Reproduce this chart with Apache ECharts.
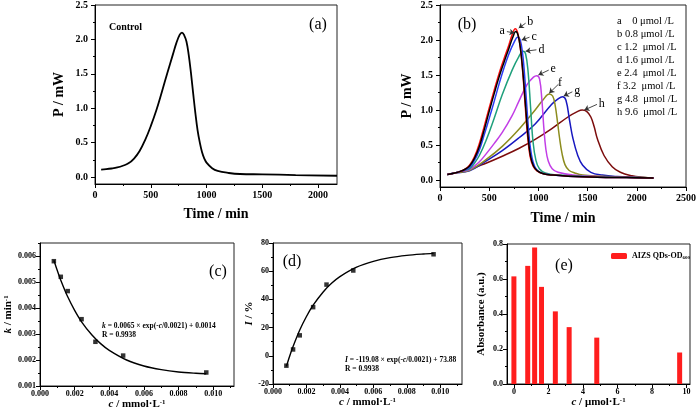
<!DOCTYPE html>
<html><head><meta charset="utf-8">
<script src="https://cdn.jsdelivr.net/npm/echarts@6/dist/echarts.min.js"></script>
<style>html,body{margin:0;padding:0;background:#fff}#c{width:699px;height:413px}</style>
</head><body><div id="c"></div>
<script>
// ---------------- DATA ----------------
// (a) control
const controlTime  = [55,100,150,200,250,300,350,400,450,500,550,600,650,700,730,760,780,800,820,840,860,880,900,920,940,960,980,1000,1050,1100,1200,1300,1500,1800,2170];
const controlPower = [0.11,0.115,0.125,0.14,0.165,0.2,0.27,0.38,0.54,0.74,0.97,1.24,1.52,1.79,1.95,2.07,2.10,2.06,1.97,1.78,1.52,1.22,0.93,0.68,0.50,0.36,0.27,0.21,0.13,0.09,0.06,0.045,0.04,0.03,0.02];
// (b) curves a..h
const timeA  = [75,150,200,250,300,350,400,450,500,550,600,650,700,740,770,795,820,845,870,895,920,950,990,1050,1150,1300,1600,1900,2170];
const powerA = [0.08,0.1,0.12,0.15,0.2,0.31,0.48,0.72,0.98,1.23,1.47,1.68,1.88,2.04,2.12,2.06,1.85,1.5,1.05,0.62,0.34,0.2,0.13,0.09,0.07,0.055,0.04,0.035,0.03];
const timeB  = [75,150,200,250,300,350,400,450,500,550,600,650,700,735,765,790,815,840,865,890,915,945,985,1050,1150,1300,1600,1900,2170];
const powerB = [0.08,0.1,0.12,0.15,0.21,0.33,0.52,0.77,1.03,1.28,1.52,1.73,1.93,2.08,2.16,2.1,1.9,1.55,1.08,0.63,0.34,0.2,0.13,0.09,0.07,0.055,0.04,0.035,0.03];
const timeC  = [75,150,200,250,300,350,400,450,500,550,600,650,700,750,790,815,840,865,890,915,945,980,1030,1100,1300,1600,1900,2170];
const powerC = [0.08,0.1,0.12,0.14,0.18,0.28,0.43,0.65,0.88,1.12,1.37,1.6,1.8,1.96,2.04,2.0,1.8,1.4,0.9,0.5,0.26,0.15,0.1,0.08,0.055,0.04,0.035,0.03];
const timeD  = [75,150,200,250,300,350,400,467,550,633,733,800,845,870,895,920,945,975,1010,1070,1200,1500,1800,2170];
const powerD = [0.08,0.1,0.12,0.14,0.16,0.24,0.35,0.56,0.88,1.22,1.57,1.76,1.84,1.8,1.55,1.05,0.55,0.28,0.16,0.1,0.07,0.05,0.04,0.03];
const timeE  = [75,150,200,300,400,467,550,633,733,800,883,950,985,1012,1035,1055,1075,1100,1140,1200,1350,1600,1900,2170];
const powerE = [0.08,0.1,0.12,0.15,0.26,0.37,0.52,0.68,0.92,1.12,1.36,1.47,1.49,1.44,1.15,0.75,0.45,0.27,0.16,0.11,0.07,0.05,0.04,0.03];
const timeF  = [75,150,300,467,633,800,967,1050,1110,1145,1170,1195,1215,1240,1270,1310,1370,1450,1700,2000,2170];
const powerF = [0.08,0.1,0.14,0.29,0.48,0.72,1.0,1.15,1.23,1.2,1.07,0.82,0.6,0.38,0.22,0.14,0.1,0.07,0.05,0.04,0.03];
const timeG  = [75,150,300,467,633,800,967,1133,1200,1245,1280,1317,1350,1400,1450,1533,1650,1800,2000,2170];
const powerG = [0.08,0.1,0.13,0.27,0.42,0.6,0.8,1.08,1.16,1.19,1.14,0.85,0.6,0.35,0.21,0.11,0.07,0.05,0.04,0.03];
const timeH  = [75,150,300,467,633,800,967,1133,1300,1400,1445,1490,1533,1567,1600,1667,1750,1833,1950,2050,2170];
const powerH = [0.08,0.1,0.15,0.24,0.34,0.45,0.58,0.73,0.9,0.98,1.0,0.98,0.9,0.76,0.585,0.35,0.19,0.11,0.06,0.04,0.03];
const curveLetters = ['a','b','c','d','e','f','g','h'];
const curveConcLabels = ['a    0 μmol /L','b 0.8 μmol /L','c 1.2  μmol /L','d 1.6 μmol /L','e 2.4  μmol /L','f 3.2  μmol /L','g 4.8  μmol /L','h 9.6  μmol /L'];
// (c) rate constant
const concMmol = [0.0008,0.0012,0.0016,0.0024,0.0032,0.0048,0.0096];
const kValues  = [0.0058,0.0052,0.00465,0.00357,0.0027,0.00217,0.00152];
const fitConc  = [0.0008,0.001,0.0012,0.0016,0.002,0.0024,0.003,0.0035,0.004,0.005,0.006,0.007,0.008,0.009,0.0096];
const kFit     = [0.00584,0.00544,0.00507,0.00443,0.00391,0.00347,0.00296,0.00263,0.00237,0.00200,0.00177,0.00163,0.00154,0.00149,0.00147];
// (d) inhibition ratio
const IValues  = [-7,4.5,14.5,34.5,50.5,60.5,72];
const IFit     = [-7.5,-0.1,6.6,18.3,27.9,35.9,45.3,51.4,56.2,62.9,67.0,69.6,71.2,72.2,72.65];
// (e) absorbance
const absConc    = [0,0.8,1.2,1.6,2.4,3.2,4.8,9.6];
const absorbance = [0.615,0.675,0.78,0.555,0.415,0.325,0.265,0.18];
// tick labels
const ticksTime   = [0,500,1000,1500,2000];
const ticksTimeB  = [0,500,1000,1500,2000,2500];
const ticksPower  = [0,0.5,1.0,1.5,2.0,2.5];
const ticksConc   = [0,0.002,0.004,0.006,0.008,0.010];
const ticksK      = [0.001,0.002,0.003,0.004,0.005,0.006];
const ticksI      = [-20,0,20,40,60,80];
const ticksAbsX   = [0,2,4,6,8,10];
const ticksAbsY   = [0,0.2,0.4,0.6,0.8];

// ---------------- HELPERS ----------------
const SERIF = "'Liberation Serif','DejaVu Serif',serif";
function minorsOf(majors, lo, hi) {
  const step = majors[1] - majors[0];
  const out = [];
  for (let v = majors[0] - step / 2; v <= majors[majors.length - 1] + step / 2 + 1e-12; v += step) {
    const r = +v.toFixed(8);
    if (r >= lo - 1e-12 && r <= hi + 1e-12) out.push(r);
  }
  return out;
}
function axisPair(g, dim, o) {
  const pos = dim === 'x' ? 'bottom' : 'left';
  const main = {
    type: 'value', gridIndex: g, min: o.min, max: o.max, position: pos,
    splitLine: {show: false},
    axisLine: {show: true, onZero: false, lineStyle: {color: '#000', width: 1}},
    axisTick: {show: true, inside: false, length: o.tickLen || 4, customValues: o.majors, lineStyle: {color: '#000'}},
    axisLabel: {show: true, customValues: o.majors, formatter: o.fmt, margin: o.margin,
      fontFamily: SERIF, fontWeight: 'bold', fontSize: o.fs, color: '#000'},
    name: o.name, nameLocation: 'middle', nameGap: o.nameGap,
    nameTextStyle: {fontFamily: SERIF, fontWeight: 'bold', fontSize: o.nameFs, color: '#000', rich: o.rich || {}}
  };
  const minor = {
    type: 'value', gridIndex: g, min: o.min, max: o.max, position: pos,
    splitLine: {show: false},
    axisLine: {show: false, onZero: false},
    axisTick: {show: true, inside: false, length: 2, customValues: minorsOf(o.majors, o.min, o.max), lineStyle: {color: '#000'}},
    axisLabel: {show: false}
  };
  return [main, minor];
}
function richName(fs) {
  return {
    t: {fontFamily: SERIF, fontWeight: 'bold', fontSize: fs, color: '#000'},
    i: {fontFamily: SERIF, fontWeight: 'bold', fontStyle: 'italic', fontSize: fs, color: '#000'},
    s: {fontFamily: SERIF, fontWeight: 'bold', fontSize: fs * 0.62, color: '#000', verticalAlign: 'top'}
  };
}
function zip(a, b) { return a.map((v, i) => [v, b[i]]); }

const grids = [
  {left: 95, top: 5, width: 242, height: 179},
  {left: 440, top: 5, width: 250, height: 182},
  {left: 40, top: 243, width: 194, height: 143},
  {left: 273, top: 243, width: 189, height: 141},
  {left: 507, top: 244, width: 183, height: 140}
].map(g => Object.assign(g, {show: true, borderColor: '#222', borderWidth: 1, backgroundColor: 'transparent', containLabel: false}));

const f1 = v => v.toFixed(1), f0 = v => String(v), f3 = v => v.toFixed(3);
const xAxes = [], yAxes = [];
function addAxes(g, xo, yo) {
  const xs = axisPair(g, 'x', xo), ys = axisPair(g, 'y', yo);
  const xi = xAxes.length, yi = yAxes.length;
  xAxes.push(...xs); yAxes.push(...ys);
  return {x: xi, y: yi};
}
const axA = addAxes(0,
  {min: 0, max: 2170, majors: ticksTime, fmt: f0, fs: 10, margin: 6, name: 'Time / min', nameGap: 23, nameFs: 14},
  {min: -0.1, max: 2.5, majors: ticksPower, fmt: f1, fs: 10, margin: 7, name: 'P / mW', nameGap: 29, nameFs: 14});
const axB = addAxes(1,
  {min: 0, max: 2500, majors: ticksTimeB, fmt: f0, fs: 10, margin: 6, name: 'Time / min', nameGap: 24, nameFs: 14},
  {min: -0.1, max: 2.5, majors: ticksPower, fmt: f1, fs: 10, margin: 7, name: 'P / mW', nameGap: 26, nameFs: 14});
const axC = addAxes(2,
  {min: 0, max: 0.0112, majors: ticksConc, fmt: f3, fs: 8, margin: 4, name: '{i|c}{t| / mmol·L}{s|-1}', nameGap: 11, nameFs: 11, rich: richName(11)},
  {min: 0.001, max: 0.0065, majors: ticksK, fmt: f3, fs: 8, margin: 4, name: '{i|k}{t| / min}{s|-1}', nameGap: 21, nameFs: 11, rich: richName(11)});
const axD = addAxes(3,
  {min: 0, max: 0.0113, majors: ticksConc, fmt: f3, fs: 8, margin: 4, name: '{i|c}{t| / mmol·L}{s|-1}', nameGap: 11, nameFs: 11, rich: richName(11)},
  {min: -20, max: 80, majors: ticksI, fmt: f0, fs: 8, margin: 4, name: '{i|I}{t| / %}', nameGap: 16, nameFs: 11, rich: richName(11)});
const axE = addAxes(4,
  {min: -0.4, max: 10.2, majors: ticksAbsX, fmt: f0, fs: 8, margin: 4, name: '{i|c}{t| / μmol·L}{s|-1}', nameGap: 11, nameFs: 11, rich: richName(11)},
  {min: 0, max: 0.8, majors: ticksAbsY, fmt: f1, fs: 8, margin: 4, name: 'Absorbance (a.u.)', nameGap: 20, nameFs: 11});

// arrows (annotation) for panel (b): tail -> head in data units
const arrowTail = [[680,2.12],[870,2.24],[910,2.04],[980,1.86],[1105,1.57],[1205,1.37],[1345,1.26],[1595,1.08]];
const arrowHead = [[757,2.1],[800,2.17],[830,2.0],[870,1.84],[1000,1.5],[1110,1.24],[1257,1.2],[1467,1.0]];

const curveTimes  = [timeA,timeB,timeC,timeD,timeE,timeF,timeG,timeH];
const curvePowers = [powerA,powerB,powerC,powerD,powerE,powerF,powerG,powerH];
const curveColors = ['#000000','#ff1010','#2a3cf5','#1fa07c','#c23ee6','#8c8c1e','#1818c0','#7c0c0c'];

const series = [];
series.push({type: 'line', xAxisIndex: axA.x, yAxisIndex: axA.y, data: zip(controlTime, controlPower),
  showSymbol: false, smooth: 0.4, lineStyle: {color: '#000', width: 1.8}});
for (let i = curveLetters.length - 1; i >= 0; i--) {
  series.push({type: 'line', name: curveLetters[i], xAxisIndex: axB.x, yAxisIndex: axB.y,
    data: zip(curveTimes[i], curvePowers[i]), showSymbol: false, smooth: 0.4,
    lineStyle: {color: curveColors[i], width: 1.5}, z: 2,
    markLine: {silent: true, symbol: ['none', 'arrow'], symbolSize: 5, animation: false,
      lineStyle: {color: '#333', width: 0.9, type: 'solid'},
      label: {show: true, position: 'start', formatter: curveLetters[i], distance: 2,
        fontFamily: SERIF, fontSize: 12, color: '#000'},
      data: [[{coord: arrowTail[i]}, {coord: arrowHead[i]}]]}});
}
series.push({type: 'line', xAxisIndex: axC.x, yAxisIndex: axC.y, data: zip(fitConc, kFit), showSymbol: false, smooth: 0.3, lineStyle: {color: '#000', width: 1.4}});
series.push({type: 'scatter', xAxisIndex: axC.x, yAxisIndex: axC.y, data: zip(concMmol, kValues), symbol: 'rect', symbolSize: 4.5, itemStyle: {color: '#000'}});
series.push({type: 'line', xAxisIndex: axD.x, yAxisIndex: axD.y, data: zip(fitConc, IFit), showSymbol: false, smooth: 0.3, lineStyle: {color: '#000', width: 1.4}});
series.push({type: 'scatter', xAxisIndex: axD.x, yAxisIndex: axD.y, data: zip(concMmol, IValues), symbol: 'rect', symbolSize: 4.5, itemStyle: {color: '#000'}});
series.push({type: 'bar', name: 'AIZS QDs-OD600', xAxisIndex: axE.x, yAxisIndex: axE.y, data: zip(absConc, absorbance), barWidth: 5, itemStyle: {color: '#ff1e1e'}});

function txt(x, y, text, o) {
  o = o || {};
  return {type: 'text', x: x, y: y, silent: true, z: 10,
    style: {text: text, fill: '#000', fontFamily: SERIF, fontSize: o.fs || 12, fontWeight: o.fw || 'normal',
      align: o.align || 'left', verticalAlign: 'middle', textAlign: o.align || 'left', textVerticalAlign: 'middle', rich: o.rich}};
}
function richEq(fs) {
  return {
    t: {fontFamily: SERIF, fontWeight: 'bold', fontSize: fs, fill: '#000', color: '#000'},
    i: {fontFamily: SERIF, fontWeight: 'bold', fontStyle: 'italic', fontSize: fs, fill: '#000', color: '#000'}
  };
}
const graphics = [
  txt(109, 27, 'Control', {fs: 10, fw: 'bold'}),
  txt(318, 25, '(a)', {fs: 16, align: 'center'}),
  txt(467, 25, '(b)', {fs: 16, align: 'center'}),
  txt(218, 272, '(c)', {fs: 16, align: 'center'}),
  txt(292, 262, '(d)', {fs: 16, align: 'center'}),
  txt(564, 266, '(e)', {fs: 16, align: 'center'}),
  txt(102, 326, '{i|k}{t| = 0.0065 × exp(-}{i|c}{t|/0.0021) + 0.0014}', {fs: 7.5, fw: 'bold', rich: richEq(7.5)}),
  txt(102, 335, 'R = 0.9938', {fs: 7.5, fw: 'bold'}),
  txt(345, 360, '{i|I}{t| = -119.08 × exp(-}{i|c}{t|/0.0021) + 73.88}', {fs: 7.5, fw: 'bold', rich: richEq(7.5)}),
  txt(345, 369, 'R = 0.9938', {fs: 7.5, fw: 'bold'})
];
curveConcLabels.forEach((s, i) => graphics.push(txt(617, 21 + i * 13, s, {fs: 10.5})));

const chart = echarts.init(document.getElementById('c'), null, {renderer: 'canvas'});
chart.setOption({
  animation: false,
  backgroundColor: '#fff',
  grid: grids,
  xAxis: xAxes,
  yAxis: yAxes,
  legend: {data: ['AIZS QDs-OD600'], left: 611, top: 252, itemWidth: 16, itemHeight: 6, itemGap: 3, padding: 0,
    formatter: () => '{m|AIZS QDs-OD}{s|600}',
    textStyle: {rich: {m: {fontFamily: SERIF, fontWeight: 'bold', fontSize: 8, color: '#000'},
                       s: {fontFamily: SERIF, fontWeight: 'bold', fontSize: 5, color: '#000', verticalAlign: 'bottom', padding: [4, 0, 0, 0]}}}},
  series: series,
  graphic: graphics
});
</script></body></html>
